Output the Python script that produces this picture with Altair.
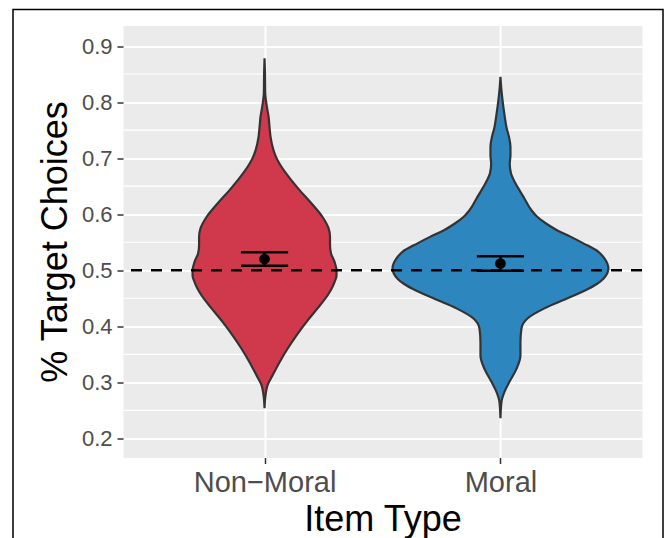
import altair as alt
import pandas as pd

# ---- data ----
categories = ["Non\u2212Moral", "Moral"]
positions = [1, 2]
fills = ["#D0394C", "#2E86BE"]

# violin outlines: y value and half-width (in category units)
nm_y = [0.878, 0.855, 0.8155, 0.79, 0.774, 0.755, 0.738, 0.714, 0.70, 0.69, 0.667, 0.643, 0.619,
        0.595, 0.575, 0.56, 0.545, 0.53, 0.515, 0.50, 0.49, 0.479, 0.467, 0.455, 0.432, 0.408,
        0.384, 0.36, 0.336, 0.3125, 0.295, 0.277, 0.254]
nm_w = [0.0, 0.0017, 0.003, 0.0106, 0.017, 0.0212, 0.0254, 0.0381, 0.0508, 0.0636, 0.1017, 0.1483,
        0.1992, 0.2458, 0.2712, 0.2775, 0.2775, 0.2818, 0.2966, 0.3051, 0.3051, 0.2966, 0.2839,
        0.2669, 0.2246, 0.178, 0.1356, 0.0975, 0.0636, 0.0339, 0.0127, 0.0042, 0.0]

m_y = [0.845, 0.825, 0.809, 0.774, 0.755, 0.738, 0.72, 0.705, 0.69, 0.673, 0.655, 0.631, 0.607,
       0.595, 0.583, 0.571, 0.56, 0.548, 0.533, 0.521, 0.503, 0.485, 0.475, 0.467, 0.449, 0.432,
       0.414, 0.396, 0.372, 0.348, 0.324, 0.301, 0.283, 0.265, 0.236]
m_w = [0.0, 0.0034, 0.0072, 0.0182, 0.0254, 0.036, 0.0424, 0.0424, 0.0394, 0.0445, 0.0636, 0.0975,
       0.1314, 0.1568, 0.1949, 0.2415, 0.2966, 0.3517, 0.4153, 0.4407, 0.4576, 0.4364, 0.4068,
       0.3729, 0.2797, 0.1864, 0.1144, 0.089, 0.0847, 0.0847, 0.0678, 0.0381, 0.0169, 0.0042, 0.0]

means = [0.520, 0.512]
ci_low = [0.508, 0.499]
ci_high = [0.532, 0.525]
errorbar_half_width = 0.1

reference_line = 0.5
major_ticks = [0.2, 0.3, 0.4, 0.5, 0.6, 0.7, 0.8, 0.9]
minor_ticks = [0.25, 0.35, 0.45, 0.55, 0.65, 0.75, 0.85]

FONT = "Liberation Sans"
Y_DOMAIN = [0.166, 0.9366]
X_DOMAIN = [0.4, 2.6]

label_expr = "datum.value == 1 ? '%s' : '%s'" % (categories[0], categories[1])

x_scale = alt.Scale(domain=X_DOMAIN, nice=False, zero=False)
y_scale = alt.Scale(domain=Y_DOMAIN, nice=False, zero=False)

x_axis = alt.Axis(values=positions, labelExpr=label_expr, title="Item Type", grid=True,
                  gridColor="white", gridWidth=2, domain=False, tickColor="#333333",
                  tickWidth=1.5, tickSize=6, labelFont=FONT, labelFontSize=29,
                  labelColor="#4D4D4D", labelPadding=5, titleFont=FONT, titleFontSize=36,
                  titleFontWeight="normal", titleColor="black", titlePadding=5)
y_axis = alt.Axis(values=major_ticks, format=".1f", title="% Target Choices", grid=True,
                  gridColor="white", gridWidth=2, domain=False, tickColor="#333333",
                  tickWidth=1.5, tickSize=6, labelFont=FONT, labelFontSize=22,
                  labelColor="#4D4D4D", labelPadding=5, titleFont=FONT, titleFontSize=36,
                  titleFontWeight="normal", titleColor="black", titlePadding=7)

# minor gridlines
minor_df = pd.DataFrame({"y": minor_ticks})
minor = alt.Chart(minor_df).mark_rule(color="white", strokeWidth=1.1).encode(
    y=alt.Y("y:Q", scale=y_scale, axis=y_axis)
)

# violins
layers = [minor]
for cat, pos, fill, ys, ws in [(categories[0], positions[0], fills[0], nm_y, nm_w),
                               (categories[1], positions[1], fills[1], m_y, m_w)]:
    df = pd.DataFrame({"y": ys, "w": ws})
    df["pos"] = pos
    v = alt.Chart(df).transform_calculate(
        xl="datum.pos - datum.w", xr="datum.pos + datum.w"
    ).mark_area(orient="horizontal", fill=fill, stroke="#333333", strokeWidth=2.2,
                interpolate="monotone").encode(
        y=alt.Y("y:Q", scale=y_scale, axis=y_axis),
        x=alt.X("xl:Q", scale=x_scale, axis=x_axis),
        x2="xr:Q",
    )
    layers.append(v)

# dashed reference line
ref = alt.Chart(pd.DataFrame({"y": [reference_line]})).mark_rule(
    color="black", strokeWidth=2.3, strokeDash=[11, 9]
).encode(y=alt.Y("y:Q", scale=y_scale))
layers.append(ref)

# error bars and means
eb_df = pd.DataFrame({"cat": categories, "pos": positions, "mean": means,
                      "lo": ci_low, "hi": ci_high})
eb_df["xl"] = eb_df["pos"] - errorbar_half_width
eb_df["xr"] = eb_df["pos"] + errorbar_half_width
base = alt.Chart(eb_df)
cap_hi = base.mark_rule(color="black", strokeWidth=2.5).encode(
    x=alt.X("xl:Q", scale=x_scale), x2="xr:Q", y=alt.Y("hi:Q", scale=y_scale))
cap_lo = base.mark_rule(color="black", strokeWidth=2.5).encode(
    x=alt.X("xl:Q", scale=x_scale), x2="xr:Q", y=alt.Y("lo:Q", scale=y_scale))
stem = base.mark_rule(color="black", strokeWidth=2.5).encode(
    x=alt.X("pos:Q", scale=x_scale), y=alt.Y("lo:Q", scale=y_scale), y2="hi:Q")
pts = base.mark_circle(color="black", opacity=1, size=115).encode(
    x=alt.X("pos:Q", scale=x_scale), y=alt.Y("mean:Q", scale=y_scale))
layers += [cap_hi, cap_lo, stem, pts]

# outer frame of the figure
frame = alt.Chart(pd.DataFrame({"f": [0]})).mark_rect(
    fill="transparent", stroke="black", strokeWidth=1.5
).encode(x=alt.value(-110), x2=alt.value(540), y=alt.value(-16), y2=alt.value(540))
layers.append(frame)

chart = alt.layer(*layers).properties(
    width=519, height=432,
    autosize="none",
    padding={"left": 115, "top": 17.5, "right": 22, "bottom": 80},
).configure_view(fill="#EBEBEB", stroke="transparent")

chart.save("out.html", embed_options={"renderer": "svg", "actions": False})
